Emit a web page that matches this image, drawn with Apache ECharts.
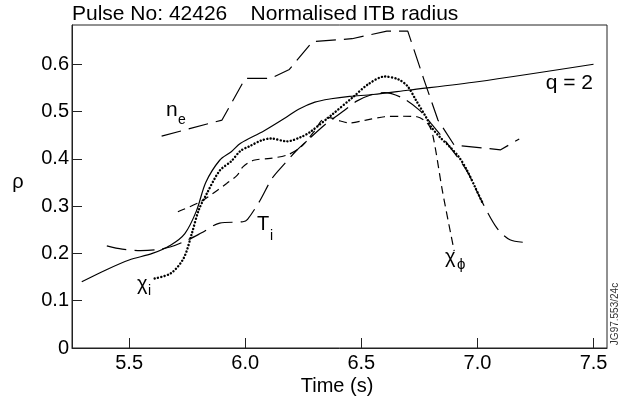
<!DOCTYPE html>
<html>
<head>
<meta charset="utf-8">
<script src="https://cdn.jsdelivr.net/npm/echarts@6/dist/echarts.min.js"></script>
<style>html,body{margin:0;padding:0;background:#fff}#c{width:626px;height:403px}</style>
</head>
<body>
<div id="c"></div>
<script>
// Tick values
var xTicks = [5.5, 6.0, 6.5, 7.0, 7.5];
var yTicks = [0, 0.1, 0.2, 0.3, 0.4, 0.5, 0.6];

// q = 2 (solid)
var q2 = [[5.296,0.140],[5.40,0.165],[5.50,0.186],[5.60,0.200],[5.68,0.218],[5.74,0.242],[5.79,0.29],[5.83,0.35],[5.89,0.397],[5.94,0.415],[5.98,0.433],[6.08,0.459],[6.18,0.489],[6.23,0.505],[6.30,0.52],[6.37,0.527],[6.45,0.532],[6.55,0.536],[6.70,0.545],[7.00,0.563],[7.50,0.600]];
// chi_i (dotted)
var chiI = [[5.61,0.147],[5.68,0.158],[5.735,0.19],[5.77,0.242],[5.80,0.292],[5.835,0.327],[5.89,0.375],[5.94,0.395],[5.98,0.417],[6.02,0.427],[6.07,0.439],[6.11,0.443],[6.18,0.437],[6.24,0.446],[6.28,0.457],[6.37,0.492],[6.47,0.533],[6.53,0.558],[6.60,0.574],[6.66,0.568],[6.70,0.553],[6.733,0.526],[6.78,0.487],[6.80,0.468],[6.84,0.445],[6.88,0.426],[6.92,0.404],[6.955,0.376],[6.99,0.34],[7.02,0.309]];
// T_i (long dash)
var Ti = [[5.404,0.216],[5.47,0.209],[5.55,0.206],[5.62,0.208],[5.68,0.214],[5.75,0.228],[5.81,0.243],[5.89,0.264],[5.99,0.267],[6.01,0.272],[6.065,0.313],[6.116,0.359],[6.17,0.39],[6.22,0.417],[6.27,0.44],[6.35,0.475],[6.42,0.5],[6.48,0.522],[6.54,0.535],[6.60,0.540],[6.68,0.528],[6.75,0.503],[6.80,0.475],[6.88,0.426],[6.955,0.374],[7.02,0.309],[7.085,0.253],[7.14,0.229],[7.21,0.223]];
// chi_phi (short dash)
var chiPhi = [[5.71,0.288],[5.806,0.309],[5.87,0.33],[5.92,0.348],[5.965,0.365],[5.99,0.383],[6.036,0.397],[6.108,0.401],[6.18,0.408],[6.24,0.425],[6.30,0.46],[6.33,0.482],[6.36,0.487],[6.41,0.48],[6.45,0.476],[6.52,0.482],[6.60,0.489],[6.68,0.49],[6.74,0.489],[6.79,0.472],[6.81,0.445],[6.85,0.33],[6.90,0.205]];
// n_e (long dash)
var ne = [[5.64,0.448],[5.90,0.482],[6.00,0.570],[6.11,0.570],[6.19,0.589],[6.29,0.648],[6.46,0.654],[6.61,0.670],[6.70,0.670],[6.77,0.567],[6.83,0.482],[6.90,0.429],[7.10,0.419],[7.18,0.442]];

var FONT = 'Liberation Sans, Arial, Helvetica, sans-serif';
var chart = echarts.init(document.getElementById('c'), null, {renderer: 'canvas'});

function txt(t, x, y, size, align) {
  return {type: 'text', x: x, y: y, silent: true,
    style: {text: t, fontSize: size, fontFamily: FONT, fill: '#000', align: align || 'left', verticalAlign: 'middle'}};
}

var option = {
  animation: false,
  backgroundColor: '#fff',
  title: {text: 'Pulse No: 42426    Normalised ITB radius', left: 72, top: 4, padding: 0,
    textStyle: {fontSize: 21, fontWeight: 'normal', fontFamily: FONT, color: '#000'}},
  grid: {left: 72, right: 19, top: 25, bottom: 55, show: true, borderColor: '#222', borderWidth: 1, backgroundColor: 'transparent'},
  xAxis: {type: 'value', min: 5.254, max: 7.558,
    axisLine: {show: true, lineStyle: {color: '#222', width: 1}},
    axisTick: {show: true, inside: true, length: 10, customValues: xTicks, lineStyle: {color: '#222'}},
    axisLabel: {customValues: xTicks, margin: 5, fontSize: 20, fontFamily: FONT, color: '#000',
      formatter: function (v) { return v.toFixed(1); }},
    splitLine: {show: false}},
  yAxis: {type: 'value', min: 0, max: 0.683,
    axisLine: {show: true, lineStyle: {color: '#222', width: 1}},
    axisTick: {show: true, inside: true, length: 10, customValues: yTicks, lineStyle: {color: '#222'}},
    axisLabel: {customValues: yTicks, margin: 3, fontSize: 20, fontFamily: FONT, color: '#000',
      formatter: function (v) { return v === 0 ? '0' : v.toFixed(1); }},
    splitLine: {show: false}},
  series: [
    {type: 'line', data: q2, showSymbol: false, smooth: 0.3, lineStyle: {color: '#000', width: 1.2, type: 'solid'}},
    {type: 'line', data: ne, showSymbol: false, smooth: false, lineStyle: {color: '#000', width: 1.2, type: [20, 8]}},
    {type: 'line', data: Ti, showSymbol: false, smooth: 0.3, lineStyle: {color: '#000', width: 1.2, type: [20, 8]}},
    {type: 'line', data: chiPhi, showSymbol: false, smooth: 0.3, lineStyle: {color: '#000', width: 1.2, type: [8, 5]}},
    {type: 'line', data: chiI, showSymbol: false, smooth: 0.3, lineStyle: {color: '#000', width: 2.4, type: [0.1, 3.3], cap: 'round'}}
  ],
  graphic: [
    txt('n', 166, 110.5, 21), txt('e', 178, 119.7, 14),
    txt('q = 2', 593, 83.5, 21, 'right'),
    txt('T', 257, 224.8, 20), txt('i', 270, 235.7, 14),
    txt('\u03c7', 137, 284, 20), txt('i', 148, 290.7, 14),
    txt('\u03c7', 445, 257.5, 20), txt('\u03d5', 457, 265.3, 15),
    txt('\u03c1', 18, 182.2, 20, 'center'),
    txt('Time (s)', 337, 386, 20, 'center'),
    {type: 'text', x: 615, y: 314, rotation: Math.PI / 2, silent: true,
      style: {text: 'JG97.553/24c', fontSize: 10, fontFamily: FONT, fill: '#333', align: 'center', verticalAlign: 'middle'}}
  ]
};
chart.setOption(option);
</script>
</body>
</html>
